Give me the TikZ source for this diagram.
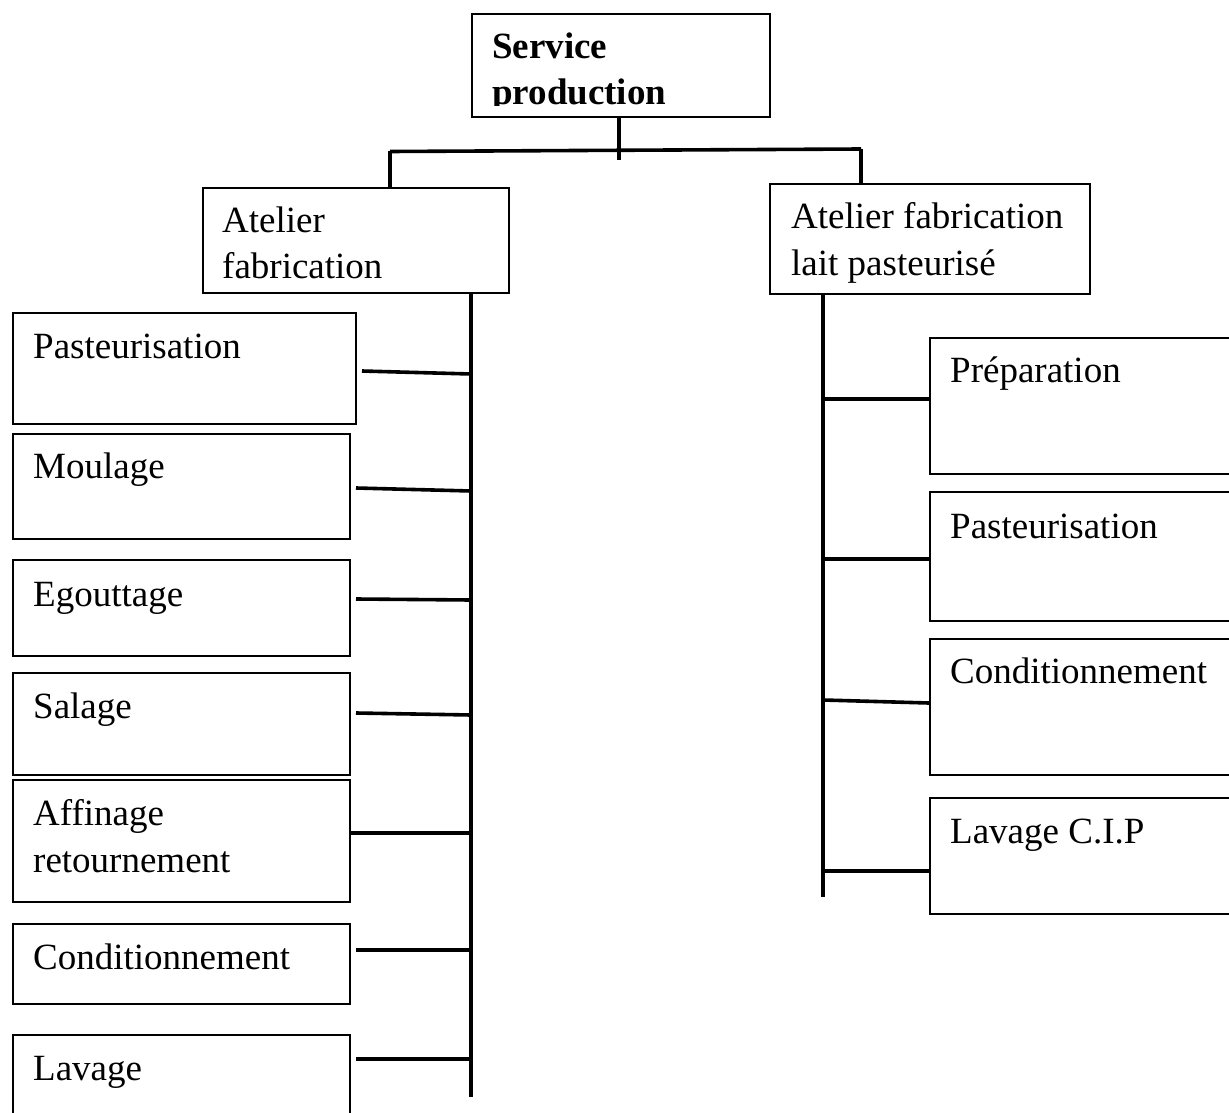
\documentclass[tikz,border=0pt]{standalone}
\usepackage{fontspec}
\setmainfont{Liberation Serif}
\begin{document}
\begin{tikzpicture}[x=1pt,y=-1pt,
  box/.style={draw, line width=1.8pt, inner sep=0pt, anchor=north west},
  conn/.style={line width=3.6pt},
  lbl/.style={font=\fontsize{37}{47}\selectfont, inner sep=0pt, anchor=base west},
  bold lbl/.style={lbl, font=\fontsize{37}{47}\selectfont\bfseries}]
\useasboundingbox (0,0) rectangle (1229,1113);

% top unit
\node[box, minimum width=298pt, minimum height=103pt] (top) at (471,13) {};
\begin{scope}
  \clip (472,14) rectangle (768,105.5);
  \node[bold lbl] (topA) at (492,59) {Service};
  \node[bold lbl] (topB) at (492,105) {production};
\end{scope}

% workshops
\node[box, minimum width=306pt, minimum height=105pt] (aL) at (202,187) {};
\node[lbl] (aLa) at (222,232) {Atelier};
\node[lbl] (aLb) at (222,278) {fabrication};

\node[box, minimum width=320pt, minimum height=110pt] (aR) at (769,183) {};
\node[lbl] (aRa) at (791,228) {Atelier fabrication};
\node[lbl] (aRb) at (791,275) {lait pasteurisé};

% branch from the service to the workshops
\coordinate (topj) at (619,160);
\coordinate (hL) at (390,151.5);
\coordinate (hR) at (861,149);
\draw[conn] (top.south -| topj) -- (topj);
\draw[conn] (hL) -- (hR);
\draw[conn] (hL) -- (aL.north -| hL);
\draw[conn] (hR) -- (aR.north -| hR);

% left column: cheese workshop steps
\node[box, minimum width=343pt, minimum height=111pt] (p1) at (12,312) {};
\node[lbl] (p1t) at (33,358) {Pasteurisation};
\node[box, minimum width=337pt, minimum height=105pt] (p2) at (12,433) {};
\node[lbl] (p2t) at (33,478) {Moulage};
\node[box, minimum width=337pt, minimum height=96pt] (p3) at (12,559) {};
\node[lbl] (p3t) at (33,606) {Egouttage};
\node[box, minimum width=337pt, minimum height=102pt] (p4) at (12,672) {};
\node[lbl] (p4t) at (33,718) {Salage};
\node[box, minimum width=337pt, minimum height=122pt] (p5) at (12,779) {};
\node[lbl] (p5a) at (33,825) {Affinage};
\node[lbl] (p5b) at (33,872) {retournement};
\node[box, minimum width=337pt, minimum height=80pt] (p6) at (12,923) {};
\node[lbl] (p6t) at (33,969) {Conditionnement};
\node[box, minimum width=337pt, minimum height=130pt] (p7) at (12,1034) {};
\node[lbl] (p7t) at (33,1080) {Lavage};

\coordinate (sL) at (471,1097);
\draw[conn] (aL.south -| sL) -- (sL);

\coordinate (l1a) at (362,371);  \coordinate (l1b) at (471,374);
\coordinate (l2a) at (356,488);  \coordinate (l2b) at (471,491);
\coordinate (l3a) at (356,599);  \coordinate (l3b) at (471,600);
\coordinate (l4a) at (356,713);  \coordinate (l4b) at (471,715);
\coordinate (l6a) at (356,950);  \coordinate (l6b) at (471,950);
\coordinate (l7a) at (356,1059); \coordinate (l7b) at (471,1059);
\coordinate (l5b) at (471,833);
\draw[conn] (l1a) -- (l1b);
\draw[conn] (l2a) -- (l2b);
\draw[conn] (l3a) -- (l3b);
\draw[conn] (l4a) -- (l4b);
\draw[conn] (p5.east |- l5b) -- (l5b);
\draw[conn] (l6a) -- (l6b);
\draw[conn] (l7a) -- (l7b);

% right column: pasteurised milk workshop steps
\node[box, minimum width=320pt, minimum height=136pt] (r1) at (929,337) {};
\node[lbl] (r1t) at (950,382) {Préparation};
\node[box, minimum width=320pt, minimum height=129pt] (r2) at (929,491) {};
\node[lbl] (r2t) at (950,538) {Pasteurisation};
\node[box, minimum width=320pt, minimum height=136pt] (r3) at (929,638) {};
\node[lbl] (r3t) at (950,683) {Conditionnement};
\node[box, minimum width=320pt, minimum height=116pt] (r4) at (929,797) {};
\node[lbl] (r4t) at (950,843) {Lavage C.I.P};

\coordinate (sR) at (823,897);
\draw[conn] (aR.south -| sR) -- (sR);

\coordinate (k1) at (823,399);
\coordinate (k2) at (823,559);
\coordinate (k3) at (823,700);
\coordinate (k3e) at (929,703);
\coordinate (k4) at (823,871);
\draw[conn] (k1) -- (r1.west |- k1);
\draw[conn] (k2) -- (r2.west |- k2);
\draw[conn] (k3) -- (k3e);
\draw[conn] (k4) -- (r4.west |- k4);
\end{tikzpicture}
\end{document}
